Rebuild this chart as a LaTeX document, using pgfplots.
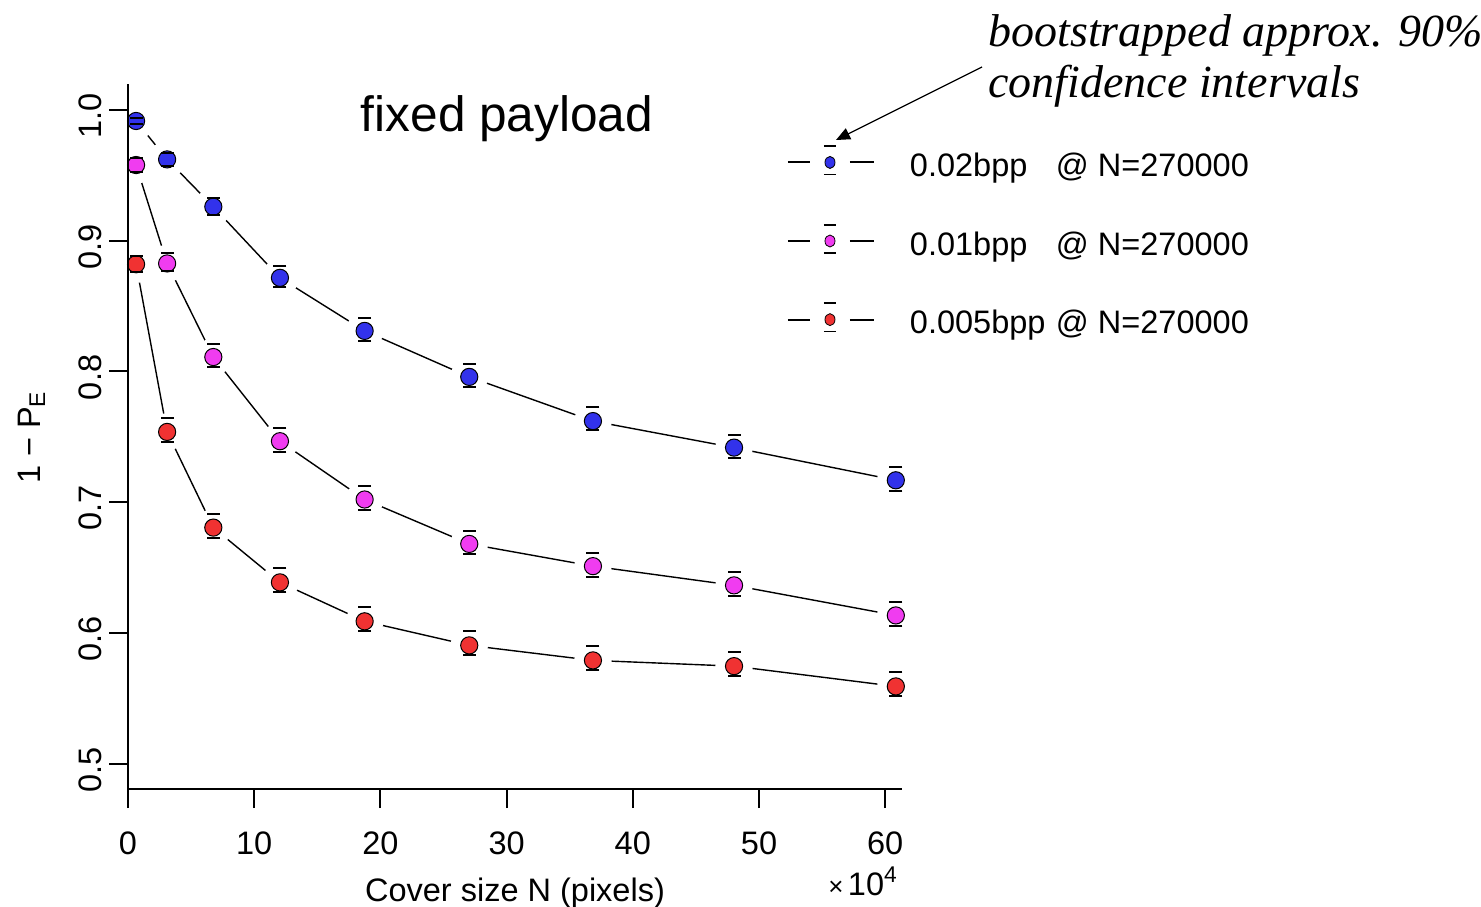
\documentclass[border=0pt]{standalone}
\usepackage{fontspec}
\setmainfont{Liberation Sans}
\newfontfamily\annfont{Liberation Serif}
\usepackage{pgfplots}
\pgfplotsset{compat=1.18}
\usepackage{pgfplotstable}
\usetikzlibrary{arrows.meta}
\definecolor{cblue}{RGB}{50,50,235}
\definecolor{cmag}{RGB}{240,60,240}
\definecolor{cred}{RGB}{240,50,50}

% x in units of 10^4 pixels; y = 1-P_E; hi/lo = bootstrapped 90% CI bounds
\pgfplotstableread{
x y hi lo
0.64 0.9916 0.9941 0.9891
3.10 0.9622 0.9672 0.9572
6.76 0.9260 0.9330 0.9200
12.04 0.8716 0.8806 0.8646
18.75 0.8310 0.8410 0.8230
27.04 0.7958 0.8058 0.7878
36.84 0.7620 0.7727 0.7548
48.02 0.7417 0.7517 0.7337
60.84 0.7167 0.7267 0.7087
}\tblblue
\pgfplotstableread{
x y hi lo
0.64 0.9579 0.9629 0.9529
3.10 0.8826 0.8906 0.8766
6.76 0.8110 0.8210 0.8030
12.04 0.7466 0.7566 0.7386
18.75 0.7020 0.7120 0.6940
27.04 0.6680 0.6780 0.6600
36.84 0.6510 0.6610 0.6430
48.02 0.6363 0.6463 0.6283
60.84 0.6133 0.6233 0.6053
}\tblmag
\pgfplotstableread{
x y hi lo
0.64 0.8820 0.8880 0.8760
3.10 0.7537 0.7644 0.7460
6.76 0.6805 0.6912 0.6728
12.04 0.6386 0.6493 0.6309
18.75 0.6088 0.6195 0.6011
27.04 0.5904 0.6011 0.5827
36.84 0.5789 0.5896 0.5712
48.02 0.5745 0.5852 0.5668
60.84 0.5590 0.5697 0.5513
}\tblred

\newcommand{\legimg}[1]{%
  \draw[black,line width=1pt] (0pt,0pt) -- (11pt,0pt) (31pt,0pt) -- (43pt,0pt);
  \draw[black,line width=0.9pt] (18pt,8.2pt) -- (24pt,8.2pt) (18pt,-6pt) -- (24pt,-6pt);
  \filldraw[fill=#1,draw=black,line width=0.4pt] (21pt,0pt) ellipse [x radius=2.5pt, y radius=3pt];
  \path[draw=none,fill=none] (0pt,0pt) -- (61pt,0pt);
}
\pgfplotsset{
  halo/.style={forget plot, on layer=axis background, black, line width=0.7pt, mark=*, mark size=9pt, mark options={fill=white, draw=white}},
  ciplot/.style={only marks, mark=*, mark size=4.3pt,
    mark options={fill=#1, draw=black, line width=0.5pt},
    legend image code/.code={\legimg{#1}}},
  cap/.style={forget plot, only marks, mark=-, mark size=3.25pt, mark options={solid, black, line width=1pt}},
}

\begin{document}
\begin{tikzpicture}
\begin{axis}[
  set layers,
  at={(64pt,58.5pt)}, anchor=south west,
  scale only axis, width=387pt, height=352.5pt,
  xmin=0, xmax=61.33, ymin=0.4805, ymax=1.0199,
  axis lines*=left,
  axis on top,
  clip=false,
  axis line style={line width=1pt, black},
  tick style={line width=1pt, black},
  major tick length=9.5pt,
  tick align=outside,
  /pgf/number format/assume math mode=true,
  xtick={0,10,20,30,40,50,60},
  xticklabels={0,10,20,30,40,50,60},
  ytick={0.5,0.6,0.7,0.8,0.9,1.0},
  yticklabels={0.5,0.6,0.7,0.8,0.9,1.0},
  ticklabel style={font=\fontsize{16.25}{19}\selectfont},
  xticklabel style={yshift=-8.5pt},
  yticklabel style={rotate=90, anchor=south, xshift=-3pt},
  legend style={draw=none, fill=none, inner sep=0pt, outer sep=0pt,
    at={(axis description cs:0.8514,0.7773)}, anchor=west,
    row sep=22pt,
    nodes={inner sep=0pt, yshift=-2pt, font=\fontsize{16.25}{19}\selectfont},
    cells={anchor=west}},
]
\addplot[halo] table[x=x,y=y]{\tblblue};
\addplot[halo] table[x=x,y=y]{\tblmag};
\addplot[halo] table[x=x,y=y]{\tblred};

\addplot[ciplot=cblue] table[x=x,y=y]{\tblblue};
\addlegendentry{\makebox[73pt][l]{0.02bpp}@ N=270000}
\addplot[ciplot=cmag] table[x=x,y=y]{\tblmag};
\addlegendentry{\makebox[73pt][l]{0.01bpp}@ N=270000}
\addplot[ciplot=cred] table[x=x,y=y]{\tblred};
\addlegendentry{\makebox[73pt][l]{0.005bpp}@ N=270000}

\addplot[cap] table[x=x,y=hi]{\tblblue};
\addplot[cap] table[x=x,y=lo]{\tblblue};
\addplot[cap] table[x=x,y=hi]{\tblmag};
\addplot[cap] table[x=x,y=lo]{\tblmag};
\addplot[cap] table[x=x,y=hi]{\tblred};
\addplot[cap] table[x=x,y=lo]{\tblred};
\end{axis}

\node[anchor=base, font=\fontsize{24.8}{28}\selectfont, inner sep=0pt] at (253.5pt,387pt) {fixed payload};
\node[anchor=base, font=\fontsize{16.25}{19}\selectfont, inner sep=0pt] at (257.5pt,2.5pt) {Cover size N (pixels)};
\node[anchor=base, rotate=90, font=\fontsize{16.25}{19}\selectfont, inner sep=0pt] at (20pt,234.25pt) {1 − P\textsubscript{E}};
\node[anchor=base west, font=\fontsize{16.25}{19}\selectfont, inner sep=0pt] at (414pt,5.5pt) {{\fontsize{13}{13}\selectfont ×\,}10\textsuperscript{4}};
\node[anchor=base west, font=\annfont\itshape\fontsize{23}{26}\selectfont, inner sep=0pt] at (494pt,429.5pt) {bootstrapped approx. 90\%};
\node[anchor=base west, font=\annfont\itshape\fontsize{23}{26}\selectfont, inner sep=0pt] at (494pt,404pt) {confidence intervals};
\draw[line width=0.6pt, -{Triangle[length=7pt,width=6pt]}] (491pt,419.5pt) -- (418pt,383pt);

\pgfresetboundingbox
\useasboundingbox (0pt,0pt) rectangle (740.5pt,453pt);
\end{tikzpicture}
\end{document}
